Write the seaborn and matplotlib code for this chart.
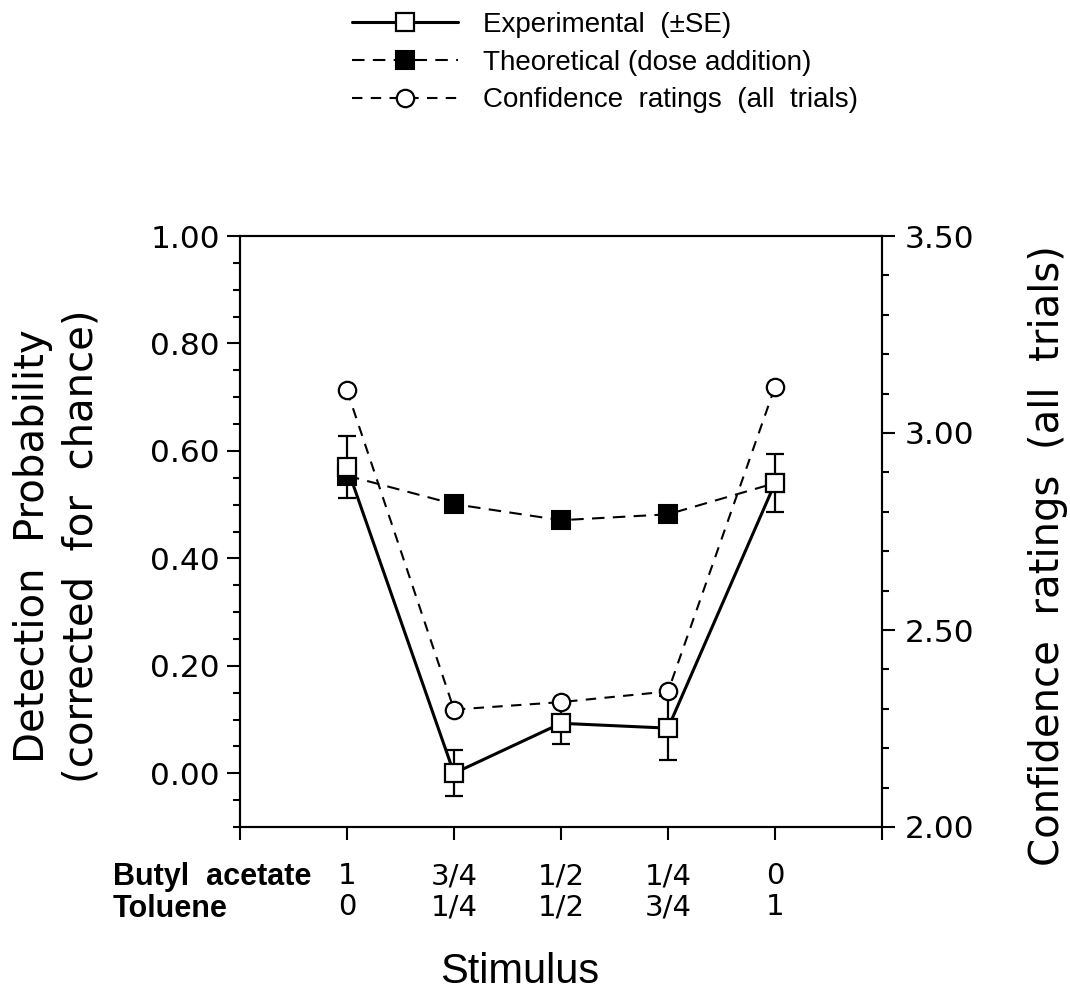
import matplotlib
matplotlib.use("Agg")
import matplotlib.pyplot as plt
from matplotlib.ticker import MultipleLocator, FormatStrFormatter, FixedLocator
import seaborn as sns
import pandas as pd

# ---------------- data ----------------
stim_pos = [1, 2, 3, 4, 5]
butyl_labels = ["1", "3/4", "1/2", "1/4", "0"]
toluene_labels = ["0", "1/4", "1/2", "3/4", "1"]
experimental = [0.570, 0.000, 0.093, 0.084, 0.540]
experimental_se = [0.057, 0.043, 0.039, 0.060, 0.054]
theoretical = [0.554, 0.501, 0.471, 0.482, 0.540]
confidence = [3.108, 2.298, 2.317, 2.344, 3.117]

legend_labels = ["Experimental  (\u00b1SE)", "Theoretical (dose addition)",
                 "Confidence  ratings  (all  trials)"]

df = pd.DataFrame({"pos": stim_pos, "exp": experimental, "se": experimental_se,
                   "theo": theoretical, "conf": confidence})

# ---------------- style ----------------
sns.set_style("ticks")
plt.rcParams["font.family"] = ["DejaVu Sans"]
plt.rcParams["axes.linewidth"] = 1.5
for key in ["text.color", "axes.labelcolor", "xtick.color", "ytick.color",
            "axes.edgecolor"]:
    plt.rcParams[key] = "black"

fig = plt.figure(figsize=(10.7, 9.93), dpi=100)
ax = fig.add_axes([240 / 1070, 1 - 827 / 993, 642 / 1070, 591 / 993])
ax2 = ax.twinx()

# theoretical (filled squares, dashed)
sns.lineplot(data=df, x="pos", y="theo", ax=ax, color="black", linestyle=(0, (6, 4)),
             linewidth=1.5, marker="s", markersize=13, markerfacecolor="black",
             markeredgecolor="black", markeredgewidth=1.5, zorder=2)
h_theo = ax.lines[-1]

# experimental error bars
ax.errorbar(df["pos"], df["exp"], yerr=df["se"], fmt="none", ecolor="black",
            elinewidth=1.6, capsize=6.5, capthick=1.6, zorder=3)
# experimental (open squares, solid)
sns.lineplot(data=df, x="pos", y="exp", ax=ax, color="black", linestyle="-",
             linewidth=2.2, marker="s", markersize=12.5, markerfacecolor="white",
             markeredgecolor="black", markeredgewidth=1.6, zorder=4)
h_exp = ax.lines[-1]

# confidence ratings (open circles, dashed) on right axis
sns.lineplot(data=df, x="pos", y="conf", ax=ax2, color="black", linestyle=(0, (5, 4)),
             linewidth=1.5, marker="o", markersize=12.5, markerfacecolor="white",
             markeredgecolor="black", markeredgewidth=1.6, zorder=5)
h_conf = ax2.lines[-1]

# ---------------- axes ----------------
ax.set_xlim(0, 6)
ax.set_ylim(-0.1, 1.0)
ax2.set_ylim(2.0, 3.5)

ax.xaxis.set_major_locator(FixedLocator([0, 1, 2, 3, 4, 5, 6]))
ax.set_xticklabels([""] + [f"{b}\n{t}" for b, t in zip(butyl_labels, toluene_labels)] + [""])
for lbl in ax.get_xticklabels():
    lbl.set_linespacing(1.12)
    lbl.set_fontsize(21)

ax.yaxis.set_major_locator(MultipleLocator(0.2))
ax.yaxis.set_minor_locator(MultipleLocator(0.05))
ax.yaxis.set_major_formatter(FormatStrFormatter("%.2f"))
ax2.yaxis.set_major_locator(MultipleLocator(0.5))
ax2.yaxis.set_minor_locator(MultipleLocator(0.1))
ax2.yaxis.set_major_formatter(FormatStrFormatter("%.2f"))

ax.tick_params(axis="y", which="major", direction="out", length=9.5, width=1.5,
               pad=5, labelsize=22.5, left=True, right=False)
ax.tick_params(axis="y", which="minor", direction="out", length=5, width=1.5,
               left=True, right=False)
ax.tick_params(axis="x", which="major", direction="out", length=9.5, width=1.5,
               pad=16, labelsize=21, top=False)
ax2.tick_params(axis="y", which="major", direction="out", length=9.5, width=1.5,
                pad=7, labelsize=22.5)
ax2.tick_params(axis="y", which="minor", direction="out", length=5, width=1.5)

for a in (ax, ax2):
    for s in a.spines.values():
        s.set_visible(True)
        s.set_linewidth(1.5)
        s.set_color("black")

ax.set_xlabel("")
ax.set_ylabel("Detection  Probability\n(corrected  for  chance)", fontsize=29,
              linespacing=1.3)
ax.yaxis.set_label_coords(-0.215, 0.475)
ax2.set_ylabel("Confidence  ratings  (all  trials)", fontsize=29)
ax2.yaxis.set_label_coords(1.228, 0.46)

# row titles for the stimulus mixture
fig.text(113 / 1070, 1 - 862 / 993, "Butyl  acetate\nToluene", ha="left", va="top",
         fontsize=22, fontweight="bold", family=["Liberation Sans", "DejaVu Sans"],
         linespacing=1.1)
fig.text(520 / 1070, 1 - 972 / 993, "Stimulus", ha="center", va="center",
         fontsize=30, family=["Liberation Sans", "DejaVu Sans"])

# legend
fig.legend([h_exp, h_theo, h_conf], legend_labels, loc="upper left",
           bbox_to_anchor=(352 / 1070, 0.988), frameon=False,
           prop={"family": ["Liberation Sans", "DejaVu Sans"], "size": 20},
           handlelength=3.8, handletextpad=0.9, labelspacing=0.42,
           borderpad=0, borderaxespad=0, numpoints=1)

fig.savefig("out.png", dpi=100)
